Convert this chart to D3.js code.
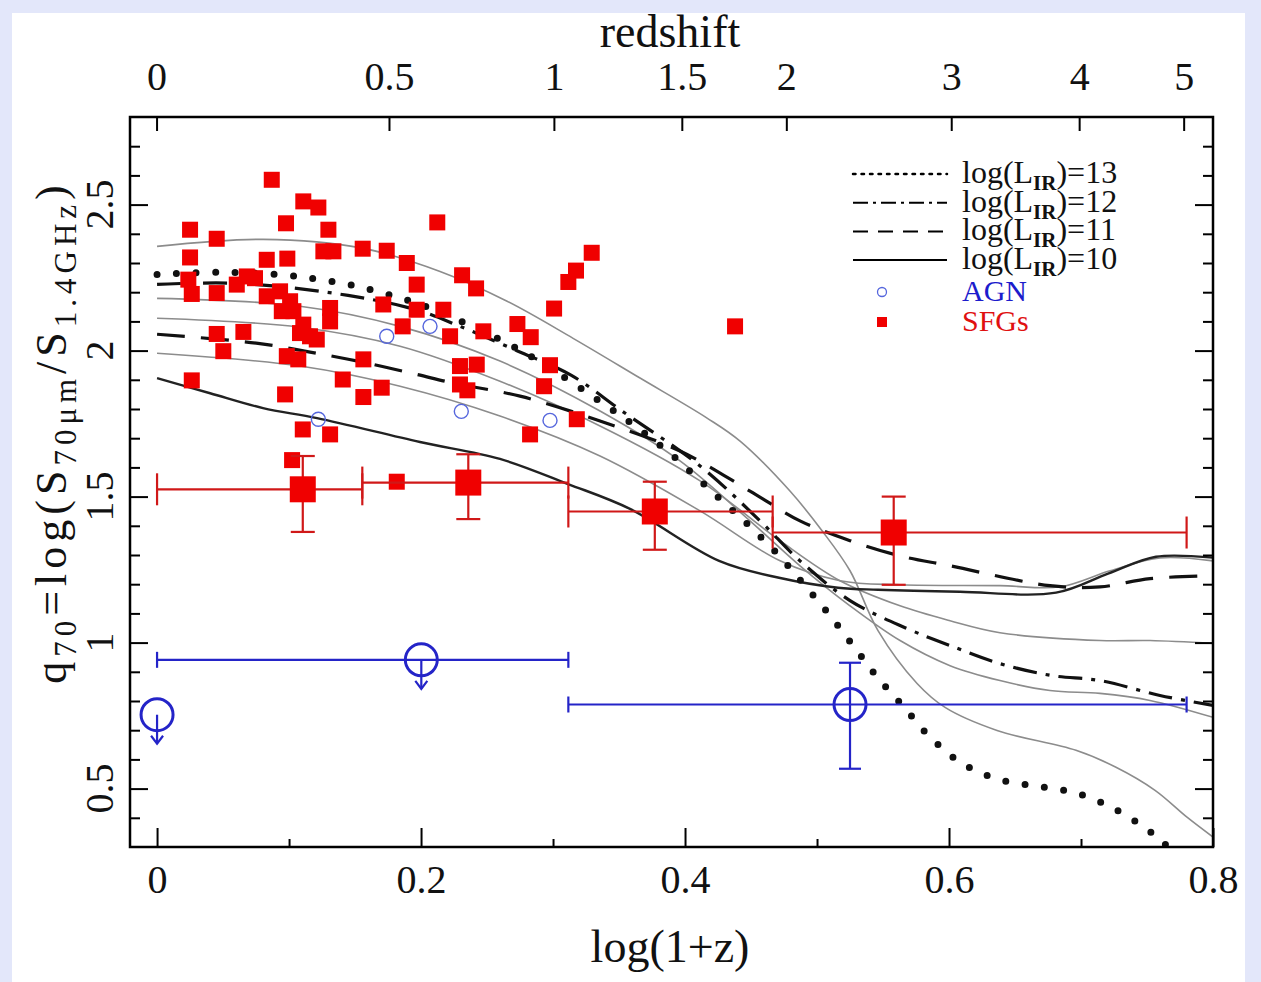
<!DOCTYPE html>
<html>
<head>
<meta charset="utf-8">
<script src="https://cdn.jsdelivr.net/npm/d3@7"></script>
<style>
  body { margin: 0; background: #e3e7fa; }
  svg text { font-family: "Liberation Serif", "DejaVu Serif", serif; fill: #111; }
</style>
</head>
<body>
<svg id="chart" width="1261" height="982"></svg>
<script>
// ---- data (x = log(1+z), y = q70) ----
const xTicks = [0, 0.2, 0.4, 0.6, 0.8];
const xMinor = [0.1, 0.3, 0.5, 0.7];
const yTicks = [0.5, 1, 1.5, 2, 2.5];
const zTicks = [0, 0.5, 1, 1.5, 2, 3, 4, 5];

// individual sources
const sfgPoints = [
  [0.0869,2.585],[0.1108,2.511],[0.1222,2.490],[0.0977,2.436],[0.0250,2.414],[0.1298,2.414],
  [0.0452,2.383],[0.2123,2.439],[0.1260,2.340],[0.1336,2.340],[0.1558,2.349],[0.1740,2.342],
  [0.0831,2.311],[0.0987,2.315],[0.0250,2.319],[0.1892,2.300],[0.2311,2.258],[0.2417,2.213],
  [0.1967,2.226],[0.0237,2.243],[0.0263,2.194],[0.0452,2.197],[0.0604,2.226],[0.0680,2.254],
  [0.0742,2.248],[0.0831,2.186],[0.0932,2.203],[0.1008,2.169],[0.1033,2.135],[0.0945,2.135],
  [0.1311,2.146],[0.1311,2.100],[0.1108,2.089],[0.1083,2.060],[0.1159,2.049],[0.1210,2.038],
  [0.1714,2.158],[0.1861,2.083],[0.2169,2.140],[0.1967,2.140],[0.2220,2.049],[0.2472,2.066],
  [0.0452,2.057],[0.0654,2.064],[0.0502,1.998],[0.0983,1.981],[0.1070,1.970],[0.1563,1.970],
  [0.2295,1.947],[0.2422,1.952],[0.0263,1.898],[0.1407,1.901],[0.1702,1.873],[0.1563,1.841],
  [0.2295,1.884],[0.2351,1.864],[0.0970,1.850],[0.1104,1.730],[0.1311,1.713],[0.3293,2.335],
  [0.3174,2.274],[0.3116,2.235],[0.3008,2.144],[0.2730,2.091],[0.2831,2.046],[0.2977,1.950],
  [0.2932,1.878],[0.3180,1.765],[0.2826,1.713],[0.4379,2.083],[0.1023,1.625],[0.1816,1.551]
];
const agnPoints = [[0.1740,2.049],[0.2068,2.083],[0.1222,1.765],[0.2305,1.792],[0.2977,1.761]];

// binned SFGs
const sfgBinX   = [0.1104, 0.2358, 0.3771, 0.5581];
const sfgBinQ   = [1.525, 1.548, 1.449, 1.377];
const sfgBinXlo = [0.0, 0.1555, 0.3116, 0.4664];
const sfgBinXhi = [0.1555, 0.3116, 0.4664, 0.78];
const sfgBinQlo = [1.379, 1.423, 1.318, 1.198];
const sfgBinQhi = [1.639, 1.645, 1.551, 1.500];

// binned AGN (first two are upper limits)
const agnBinX   = [0.0, 0.2002, 0.525];
const agnBinQ   = [0.753, 0.941, 0.788];
const agnBinXlo = [null, 0.0, 0.3116];
const agnBinXhi = [null, 0.3116, 0.78];
const agnBinQlo = [null, null, 0.568];
const agnBinQhi = [null, null, 0.931];
const agnBinLimit = [true, true, false];

// model tracks
const modelL13 = [[0,2.261],[0.048,2.268],[0.091,2.261],[0.122,2.244],[0.152,2.220],[0.182,2.183],
  [0.197,2.162],[0.239,2.083],[0.283,1.981],[0.343,1.803],[0.367,1.725],[0.391,1.639],[0.419,1.523],
  [0.447,1.407],[0.470,1.304],[0.489,1.205],[0.508,1.103],[0.528,0.986],[0.546,0.880],[0.566,0.778],
  [0.586,0.675],[0.610,0.586],[0.637,0.532],[0.667,0.508],[0.697,0.484],[0.726,0.429],[0.752,0.354],
  [0.762,0.316],[0.779,0.255]];
const modelL12 = [[0,2.227],[0.0629,2.230],[0.1447,2.189],[0.1977,2.138],[0.2295,2.083],[0.2735,1.998],
  [0.3136,1.916],[0.3523,1.793],[0.4114,1.605],[0.4568,1.417],[0.4871,1.280],[0.5250,1.144],
  [0.5667,1.051],[0.6008,0.990],[0.6386,0.928],[0.6780,0.887],[0.7144,0.870],[0.7598,0.819],[0.8,0.785]];
const modelL11 = [[0,2.056],[0.0765,2.025],[0.1159,1.995],[0.1561,1.960],[0.1962,1.919],[0.2242,1.889],
  [0.2750,1.844],[0.3356,1.759],[0.3962,1.656],[0.4492,1.519],[0.4871,1.417],[0.5250,1.349],
  [0.5629,1.297],[0.6008,1.263],[0.6765,1.195],[0.7144,1.191],[0.7523,1.219],[0.8,1.229]];
const modelL10 = [[0,1.906],[0.0402,1.854],[0.0803,1.803],[0.1212,1.769],[0.1992,1.687],[0.2598,1.629],
  [0.3114,1.543],[0.3583,1.458],[0.4258,1.280],[0.4712,1.222],[0.5159,1.188],[0.5462,1.181],
  [0.6083,1.174],[0.6811,1.171],[0.7205,1.236],[0.7568,1.294],[0.8,1.291]];
const thinA = [[0,2.357],[0.0803,2.381],[0.1561,2.350],[0.2144,2.271],[0.2652,2.169],[0.3152,2.042],
  [0.3659,1.906],[0.4167,1.769],[0.4417,1.690],[0.4795,1.519],[0.5038,1.383],[0.5250,1.246],
  [0.5462,1.041],[0.5758,0.860],[0.5970,0.778],[0.6364,0.699],[0.6962,0.631],[0.7265,0.573],
  [0.7561,0.494],[0.7803,0.402],[0.8,0.334]];
const thinC = [[0,2.179],[0.1083,2.152],[0.1841,2.083],[0.2598,1.964],[0.3356,1.793],[0.3962,1.622],
  [0.4492,1.417],[0.4871,1.263],[0.5250,1.126],[0.5629,1.007],[0.6008,0.921],[0.6386,0.870],
  [0.6765,0.836],[0.7144,0.826],[0.7523,0.802],[0.8,0.744]];
const thinD = [[0,2.111],[0.1083,2.080],[0.1841,2.015],[0.2598,1.895],[0.3356,1.742],[0.4114,1.554],
  [0.4720,1.349],[0.5174,1.212],[0.5629,1.126],[0.6008,1.075],[0.6386,1.034],[0.7144,1.007],
  [0.7523,1.007],[0.8,0.997]];
const thinE = [[0,1.991],[0.1083,1.947],[0.1841,1.878],[0.2598,1.776],[0.3356,1.639],[0.4114,1.451],
  [0.4720,1.280],[0.5174,1.212],[0.5629,1.198],[0.6386,1.195],[0.6841,1.191],[0.7220,1.246],
  [0.7598,1.290],[0.8,1.280]];

const legendLabels = ["13", "12", "11", "10"];

// ---- drawing ----
const svg = d3.select("#chart");
const L = 130, R = 1213, T = 117, B = 847;
const x = d3.scaleLinear().domain([-0.0205, 0.8]).range([L, R]);
const y = d3.scaleLinear().domain([0.3, 2.8]).range([B, T]);

const RED = "#f00000", RED_BAR = "#d01818", BLUE = "#2424c8";

// white sheet
svg.append("rect").attr("x", 12).attr("y", 13).attr("width", 1233).attr("height", 969).attr("fill", "#fff");

// helper: text with subscripts, parts = [[string, isSub], ...]
function subText(sel, parts, size, subSize, shift) {
  let down = false;
  parts.forEach(([s, sub]) => {
    const t = sel.append("tspan").text(s).attr("font-size", sub ? subSize : size);
    if (sub && !down) { t.attr("dy", shift); down = true; }
    else if (!sub && down) { t.attr("dy", -shift); down = false; }
  });
}

svg.append("clipPath").attr("id", "plotclip")
  .append("rect").attr("x", L).attr("y", T).attr("width", R - L).attr("height", B - T);

// model curves
const line = d3.line().x(d => x(d[0])).y(d => y(d[1])).curve(d3.curveCatmullRom);
const curves = svg.append("g").attr("clip-path", "url(#plotclip)").attr("fill", "none");

[thinA, thinC, thinD, thinE].forEach(c => {
  curves.append("path").attr("d", line(c)).attr("stroke", "#8c8c8c").attr("stroke-width", 1.6);
});
curves.append("path").attr("d", line(modelL10)).attr("stroke", "#222").attr("stroke-width", 2.4);
curves.append("path").attr("d", line(modelL11)).attr("stroke", "#111").attr("stroke-width", 3.2)
  .attr("stroke-dasharray", "28 16");
curves.append("path").attr("d", line(modelL12)).attr("stroke", "#111").attr("stroke-width", 3.2)
  .attr("stroke-dasharray", "24 9 4 9");
curves.append("path").attr("d", line(modelL13)).attr("stroke", "#111").attr("stroke-width", 7)
  .attr("stroke-linecap", "round").attr("stroke-dasharray", "0 19.5");

// SFG individual
svg.append("g").selectAll("rect").data(sfgPoints).join("rect")
  .attr("x", d => x(d[0]) - 8).attr("y", d => y(d[1]) - 8)
  .attr("width", 16).attr("height", 16).attr("fill", RED);

// AGN individual
svg.append("g").selectAll("circle").data(agnPoints).join("circle")
  .attr("cx", d => x(d[0])).attr("cy", d => y(d[1])).attr("r", 7)
  .attr("fill", "none").attr("stroke", "#5566dd").attr("stroke-width", 1.4);

// binned SFG with error bars
const sb = svg.append("g").attr("stroke", RED_BAR).attr("stroke-width", 2.2);
sfgBinX.forEach((bx, i) => {
  const cy = y(sfgBinQ[i]), cx = x(bx);
  sb.append("line").attr("x1", x(sfgBinXlo[i])).attr("x2", x(sfgBinXhi[i])).attr("y1", cy).attr("y2", cy);
  [sfgBinXlo[i], sfgBinXhi[i]].forEach(v => {
    sb.append("line").attr("x1", x(v)).attr("x2", x(v)).attr("y1", cy - 16).attr("y2", cy + 16);
  });
  sb.append("line").attr("x1", cx).attr("x2", cx).attr("y1", y(sfgBinQlo[i])).attr("y2", y(sfgBinQhi[i]));
  [sfgBinQlo[i], sfgBinQhi[i]].forEach(v => {
    sb.append("line").attr("x1", cx - 12).attr("x2", cx + 12).attr("y1", y(v)).attr("y2", y(v));
  });
  svg.append("rect").attr("x", cx - 13).attr("y", cy - 13).attr("width", 26).attr("height", 26).attr("fill", RED);
});

// binned AGN
const ab = svg.append("g").attr("stroke", BLUE).attr("stroke-width", 2.2).attr("fill", "none");
agnBinX.forEach((bx, i) => {
  const cy = y(agnBinQ[i]), cx = x(bx);
  if (agnBinXlo[i] !== null) {
    ab.append("line").attr("x1", x(agnBinXlo[i])).attr("x2", x(agnBinXhi[i])).attr("y1", cy).attr("y2", cy);
    [agnBinXlo[i], agnBinXhi[i]].forEach(v => {
      ab.append("line").attr("x1", x(v)).attr("x2", x(v)).attr("y1", cy - 8).attr("y2", cy + 8);
    });
  }
  if (agnBinQlo[i] !== null) {
    ab.append("line").attr("x1", cx).attr("x2", cx).attr("y1", y(agnBinQlo[i])).attr("y2", y(agnBinQhi[i]));
    [agnBinQlo[i], agnBinQhi[i]].forEach(v => {
      ab.append("line").attr("x1", cx - 11).attr("x2", cx + 11).attr("y1", y(v)).attr("y2", y(v));
    });
  }
  if (agnBinLimit[i]) {
    ab.append("line").attr("x1", cx).attr("x2", cx).attr("y1", cy).attr("y2", cy + 29);
    ab.append("path").attr("d", `M${cx - 6},${cy + 21}L${cx},${cy + 29}L${cx + 6},${cy + 21}`);
  }
  ab.append("circle").attr("cx", cx).attr("cy", cy).attr("r", 16).attr("stroke-width", 3);
});

// frame
svg.append("rect").attr("x", L).attr("y", T).attr("width", R - L).attr("height", B - T)
  .attr("fill", "none").attr("stroke", "#000").attr("stroke-width", 2.5);

// bottom axis (ticks pointing inward)
const gx = svg.append("g").attr("transform", `translate(0,${B})`)
  .call(d3.axisBottom(x).tickValues(xTicks).tickSize(-19).tickFormat(d3.format("")));
svg.append("g").attr("transform", `translate(0,${B})`)
  .call(d3.axisBottom(x).tickValues(xMinor).tickSize(-8).tickFormat(""));
gx.selectAll("text").attr("y", 0).attr("dy", 46).attr("font-size", 40);

// left + right axes
const yMinor = d3.range(0.4, 2.8, 0.1).filter(v => Math.abs(v * 2 - Math.round(v * 2)) > 0.01);
[[L, d3.axisLeft], [R, d3.axisRight]].forEach(([px, ax]) => {
  svg.append("g").attr("transform", `translate(${px},0)`)
    .call(ax(y).tickValues(yTicks).tickSize(-18).tickFormat(""));
  svg.append("g").attr("transform", `translate(${px},0)`)
    .call(ax(y).tickValues(yMinor).tickSize(-10).tickFormat(""));
});
svg.selectAll(".domain").remove();
svg.selectAll(".tick line").attr("stroke", "#000").attr("stroke-width", 2);

svg.append("g").selectAll("text").data(yTicks).join("text")
  .attr("transform", d => `translate(113,${y(d)}) rotate(-90)`)
  .attr("text-anchor", "middle").attr("font-size", 40)
  .text(d => d3.format("")(d));

// top redshift axis
const tz = svg.append("g");
tz.selectAll("line").data(zTicks).join("line")
  .attr("x1", d => x(Math.log10(1 + d))).attr("x2", d => x(Math.log10(1 + d)))
  .attr("y1", T).attr("y2", T + 14).attr("stroke", "#000").attr("stroke-width", 2);
tz.selectAll("text").data(zTicks).join("text")
  .attr("x", d => x(Math.log10(1 + d))).attr("y", 90)
  .attr("text-anchor", "middle").attr("font-size", 40).text(d => d);

// titles
svg.append("text").attr("x", 670).attr("y", 47).attr("text-anchor", "middle")
  .attr("font-size", 46).text("redshift");
svg.append("text").attr("x", 670).attr("y", 962).attr("text-anchor", "middle")
  .attr("font-size", 46).text("log(1+z)");
const yl = svg.append("text").attr("transform", "translate(66,432) rotate(-90)")
  .attr("text-anchor", "middle").attr("letter-spacing", 5);
subText(yl, [["q", false], ["70", true], ["=log(S", false], ["70μm", true], ["/S", false],
  ["1.4GHz", true], [")", false]], 44, 31, 10);

// legend
const dashes = [["2.5 6", 2.5, "round"], ["15 5 3 5", 2, "butt"], ["15 10", 2, "butt"], [null, 2, "butt"]];
const lg = svg.append("g");
legendLabels.forEach((lab, i) => {
  const ly = 174 + i * 28.7;
  const ln = lg.append("line").attr("x1", 853).attr("x2", 947).attr("y1", ly).attr("y2", ly)
    .attr("stroke", "#000").attr("stroke-width", dashes[i][1]).attr("stroke-linecap", dashes[i][2]);
  if (dashes[i][0]) ln.attr("stroke-dasharray", dashes[i][0]);
  const t = lg.append("text").attr("x", 962).attr("y", ly + 9);
  subText(t, [["log(L", false], ["IR", true], [")=" + lab, false]], 32, 21, 7);
  t.selectAll("tspan").filter((d, j) => j === 1).attr("font-weight", "bold");
});
lg.append("circle").attr("cx", 882).attr("cy", 292).attr("r", 4.5)
  .attr("fill", "none").attr("stroke", "#5566dd").attr("stroke-width", 1.3);
lg.append("text").attr("x", 962).attr("y", 301).attr("font-size", 30).style("fill", "#1c1ccc").text("AGN");
lg.append("rect").attr("x", 877).attr("y", 317).attr("width", 10).attr("height", 10).attr("fill", RED);
lg.append("text").attr("x", 962).attr("y", 331).attr("font-size", 30).style("fill", "#e01010").text("SFGs");
</script>
</body>
</html>
